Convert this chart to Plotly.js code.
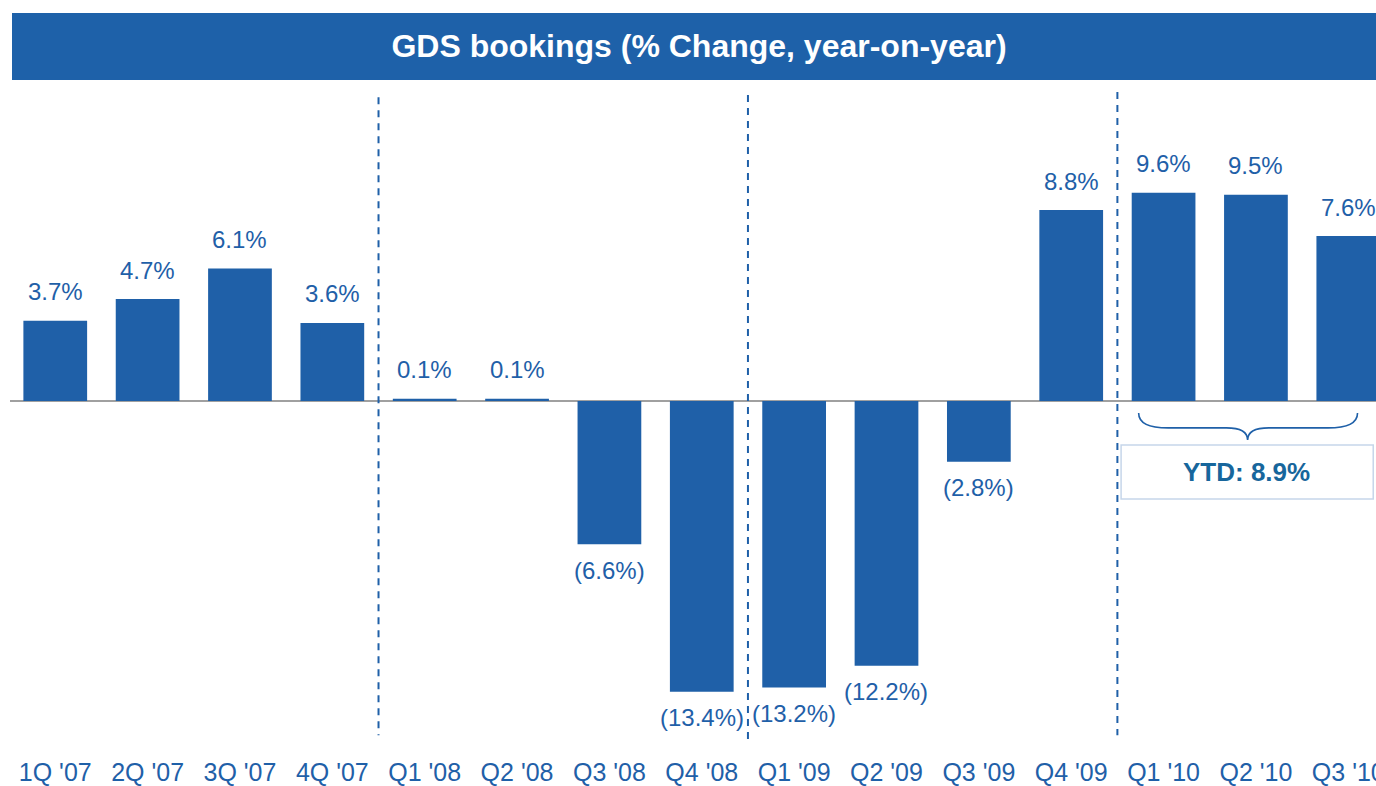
<!DOCTYPE html>
<html>
<head>
<meta charset="utf-8">
<script src="https://cdn.plot.ly/plotly-3.0.1.min.js"></script>
<style>html,body{margin:0;padding:0;background:#fff;}#chart{width:1376px;height:786px;}</style>
</head>
<body>
<div id="chart"></div>
<script>
// ---- data ----
var quarters = ["1Q '07","2Q '07","3Q '07","4Q '07","Q1 '08","Q2 '08","Q3 '08","Q4 '08","Q1 '09","Q2 '09","Q3 '09","Q4 '09","Q1 '10","Q2 '10","Q3 '10"];
var changePct = [3.7, 4.7, 6.1, 3.6, 0.1, 0.1, -6.6, -13.4, -13.2, -12.2, -2.8, 8.8, 9.6, 9.5, 7.6];
var ytdLabel = "YTD: 8.9%";
var titleText = "GDS bookings (% Change, year-on-year)";

// ---- styling ----
var BLUE = '#1f60a8';
var FONT = 'Liberation Sans, Arial, Helvetica, sans-serif';

function fmt(v){ return v < 0 ? '(' + Math.abs(v).toFixed(1) + '%)' : v.toFixed(1) + '%'; }

var trace = {
  type: 'bar',
  x: quarters.map(function(_, i){ return i; }),
  y: changePct,
  width: 0.69,
  marker: {color: BLUE, line: {width: 0}},
  hoverinfo: 'none'
};

var annotations = changePct.map(function(v, i){
  return {
    x: i, y: v, xref: 'x', yref: 'y',
    text: fmt(v), showarrow: false,
    yanchor: 'middle', xanchor: 'center',
    yshift: v >= 0 ? 29 : -26,
    font: {family: FONT, size: 24, color: BLUE}
  };
});

// YTD box text
annotations.push({
  x: 12.9, y: -3.27, xref: 'x', yref: 'y', text: '<b>' + ytdLabel + '</b>',
  showarrow: false, xanchor: 'center', yanchor: 'middle',
  font: {family: FONT, size: 26, color: '#17669c'}
});

var dash = {color: BLUE, width: 2, dash: '7px,6px'};
var shapes = [
  // title bar
  {type: 'rect', xref: 'paper', yref: 'paper', x0: 2/1366, x1: 1.0, y0: (750-80)/660, y1: (750-13)/660,
   fillcolor: '#1e61a9', line: {width: 0}, layer: 'below'},
  // dashed dividers
  {type: 'line', xref: 'x', yref: 'y', x0: 3.5, x1: 3.5, y0: 14.0, y1: -15.4, line: dash},
  {type: 'line', xref: 'x', yref: 'y', x0: 7.5, x1: 7.5, y0: 14.1, y1: -15.85, line: dash},
  {type: 'line', xref: 'x', yref: 'y', x0: 11.5, x1: 11.5, y0: 14.24, y1: -15.4, line: dash},
  // curly brace
  {type: 'path', xref: 'x', yref: 'y',
   path: 'M 11.73,-0.55 Q 11.73,-1.24 12.05,-1.24 L 12.68,-1.24 Q 12.91,-1.24 12.91,-1.8 Q 12.91,-1.24 13.14,-1.24 L 13.78,-1.24 Q 14.1,-1.24 14.1,-0.55',
   line: {color: BLUE, width: 1.6}},
  // YTD box
  {type: 'rect', xref: 'x', yref: 'y', x0: 11.54, x1: 14.27, y0: -2.03, y1: -4.52,
   line: {color: '#c6d6ea', width: 1.5}, fillcolor: 'rgba(0,0,0,0)'}
];

var layout = {
  width: 1376, height: 786,
  margin: {l: 10, r: 0, t: 90, b: 36, pad: 0},
  paper_bgcolor: '#ffffff', plot_bgcolor: '#ffffff',
  showlegend: false,
  title: {
    text: '<b>' + titleText + '</b>',
    xref: 'container', yref: 'container', x: 699/1376, y: 1 - 46/786,
    xanchor: 'center', yanchor: 'middle',
    font: {family: FONT, size: 32, color: '#ffffff'}
  },
  xaxis: {
    range: [-0.49, 14.3],
    tickmode: 'array',
    tickvals: quarters.map(function(_, i){ return i; }),
    ticktext: quarters,
    showgrid: false, zeroline: false, showline: false, ticks: '',
    ticklabelstandoff: 5,
    ticklabeloverflow: 'allow',
    tickfont: {family: FONT, size: 25, color: BLUE},
    fixedrange: true
  },
  yaxis: {
    range: [-16.08, 14.33],
    showgrid: false, showticklabels: false, ticks: '',
    zeroline: true, zerolinecolor: '#a0a0a0', zerolinewidth: 1.5,
    showline: false, fixedrange: true
  },
  shapes: shapes,
  annotations: annotations,
  bargap: 0.31
};

Plotly.newPlot('chart', [trace], layout, {displayModeBar: false, staticPlot: true});
</script>
</body>
</html>
